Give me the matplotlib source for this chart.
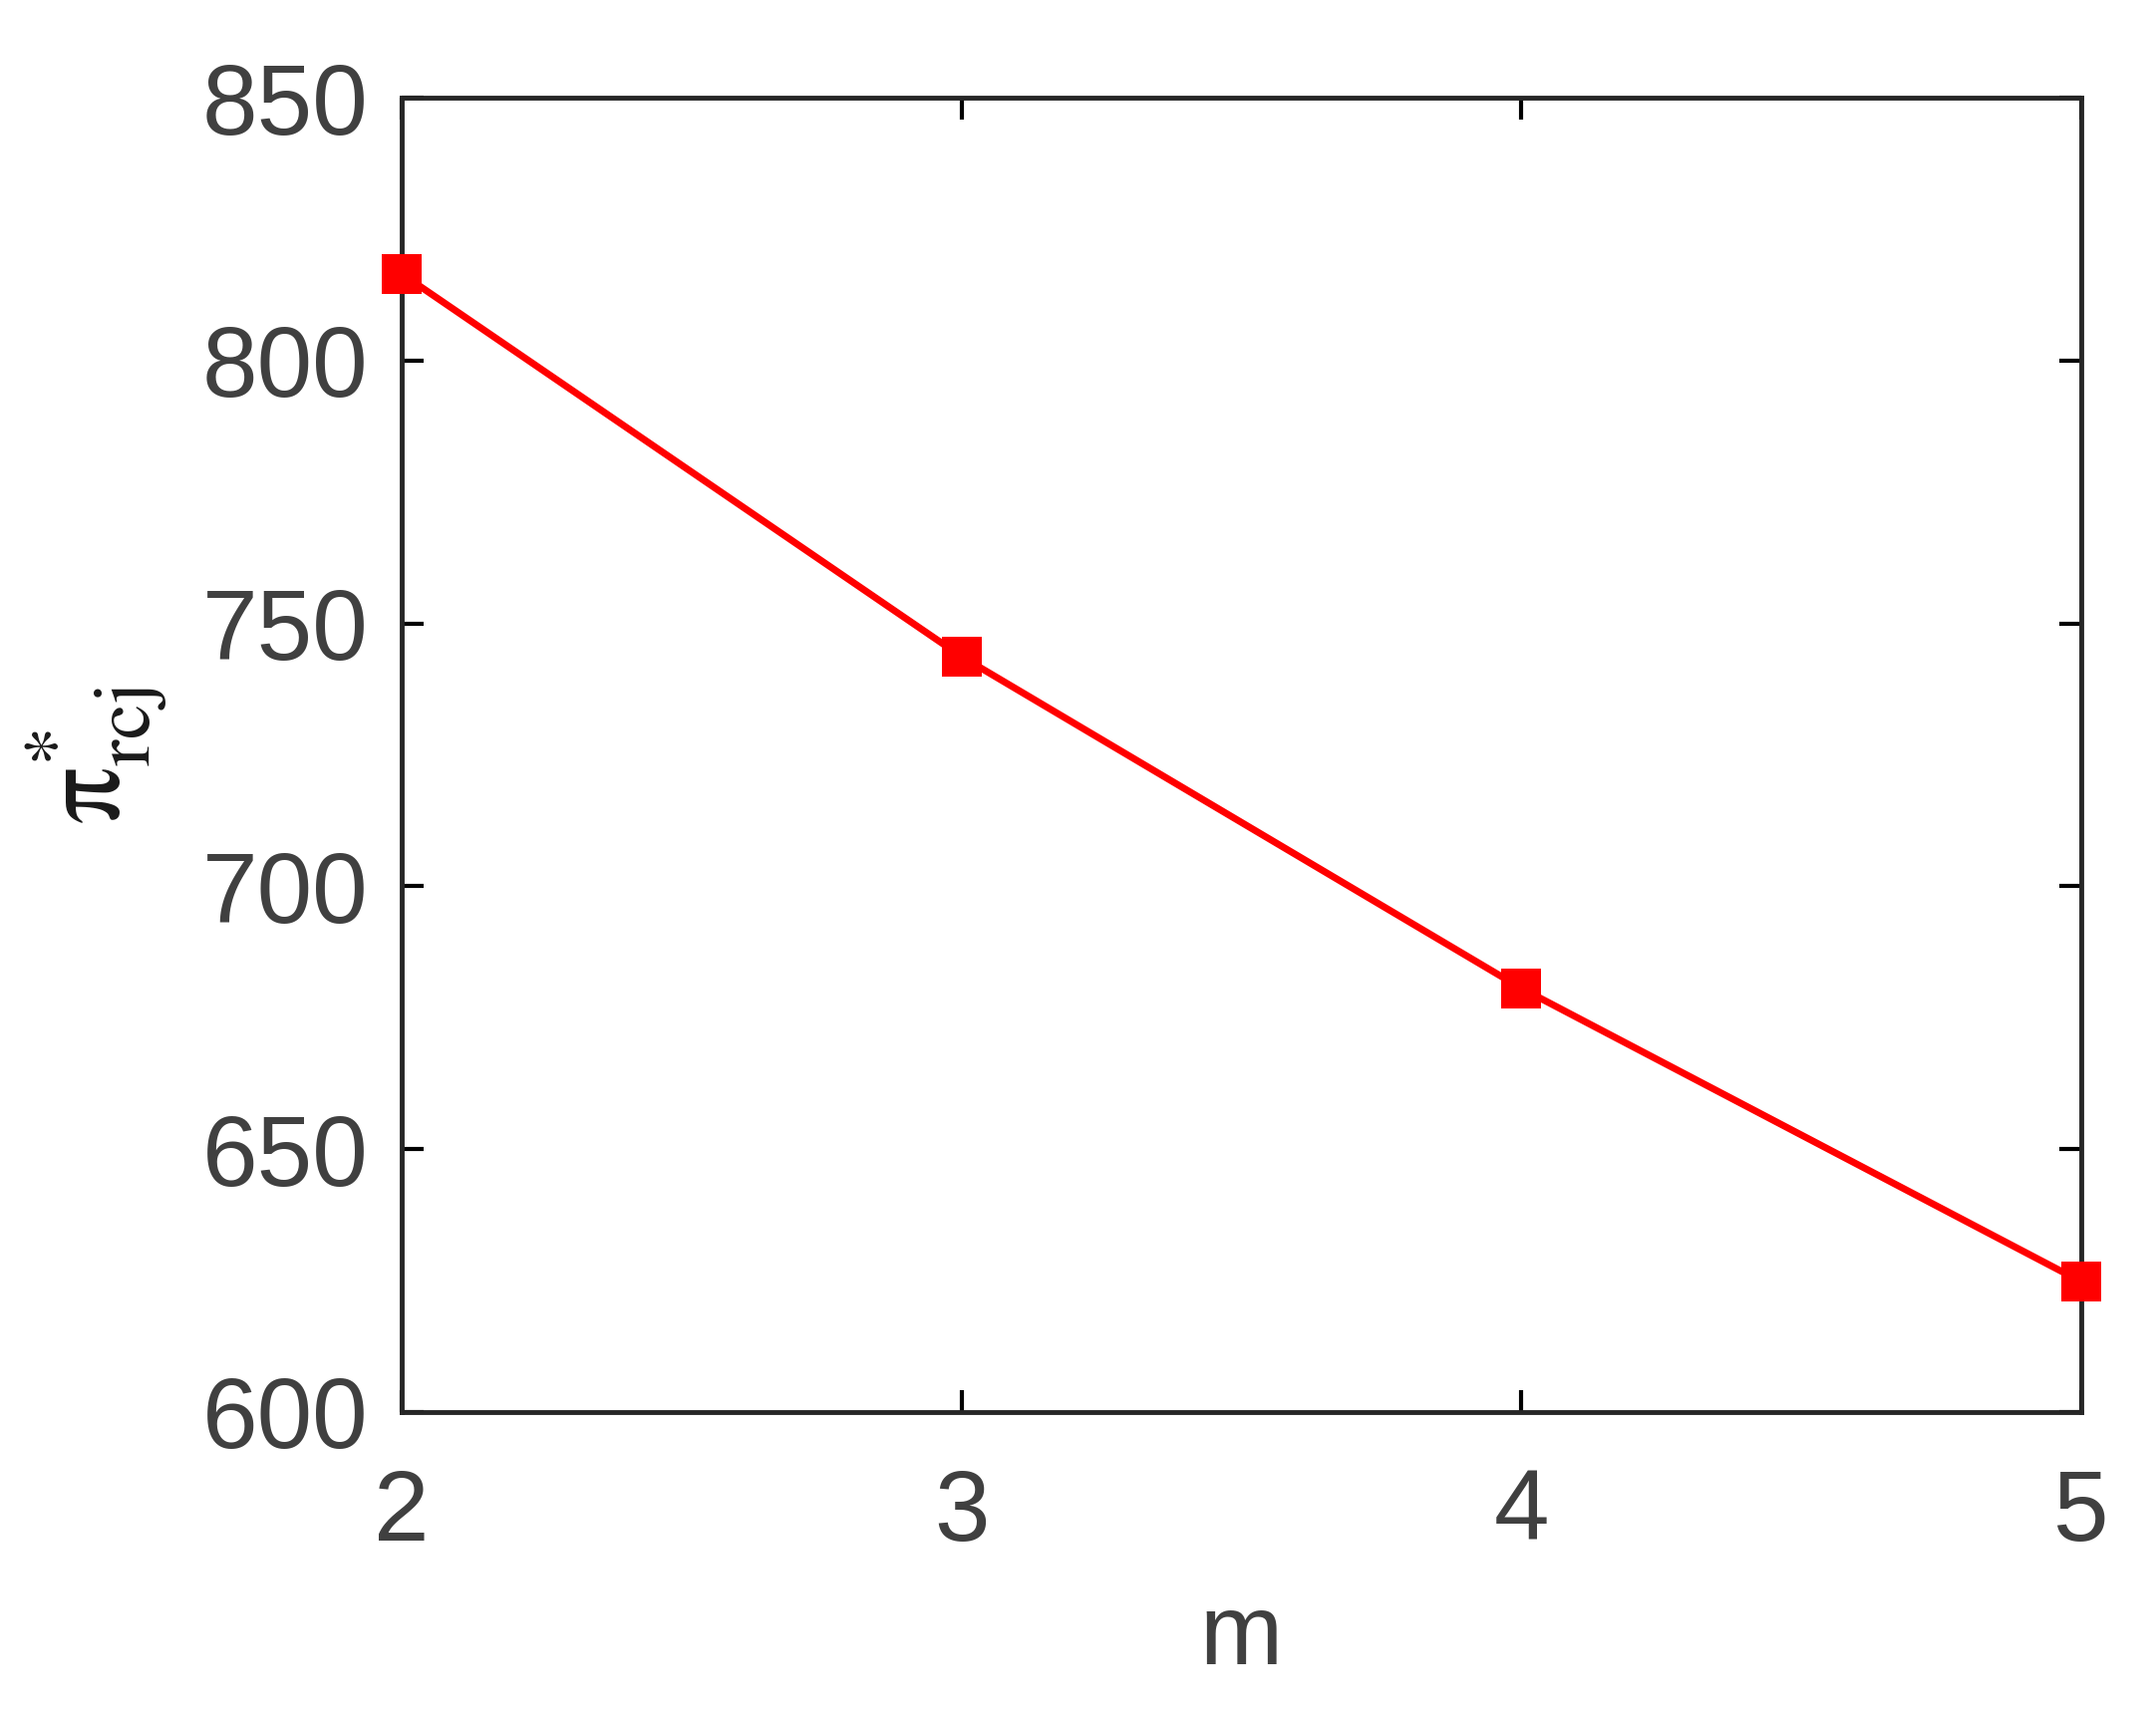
import matplotlib
matplotlib.use('Agg')
import matplotlib.pyplot as plt

# data
m_values = [2, 3, 4, 5]
profit = [816.5, 743.7, 680.6, 624.8]
x_ticks = [2, 3, 4, 5]
y_ticks = [600, 650, 700, 750, 800, 850]

plt.rcParams['font.family'] = ['Liberation Sans', 'DejaVu Sans']
plt.rcParams['mathtext.fontset'] = 'stix'

fig = plt.figure(figsize=(21.63, 17.21), dpi=100)
ax = fig.add_axes([403 / 2163, 1 - 1417 / 1721, (2088 - 403) / 2163, (1417 - 98) / 1721])

ax.plot(m_values, profit, color='#ff0000', linewidth=5, marker='s',
        markersize=29, markeredgewidth=0, clip_on=False, zorder=3)

ax.set_xlim(2, 5)
ax.set_ylim(600, 850)
ax.set_xticks(x_ticks)
ax.set_yticks(y_ticks)

ax.tick_params(direction='in', length=16, width=3, top=True, right=True,
               labelsize=72, labelcolor='#404040')
ax.tick_params(axis='x', pad=40)
ax.tick_params(axis='y', pad=24)
for s in ax.spines.values():
    s.set_linewidth(3.5)
    s.set_color('#262626')

ax.set_xlabel('m', fontsize=72, color='#404040', labelpad=22)
ax.set_ylabel(r'$\mathrm{\pi}^{*}_{\mathrm{rcj}}$', fontsize=82, color='#1a1a1a', labelpad=24)

fig.savefig('out.png', dpi=100, facecolor='white')
